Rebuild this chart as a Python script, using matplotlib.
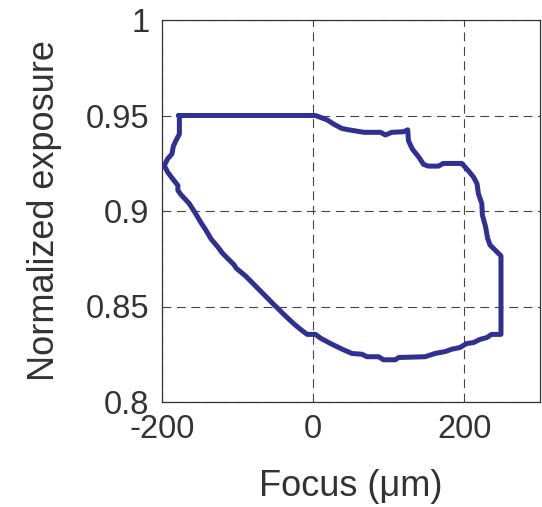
import matplotlib
matplotlib.use("Agg")
import matplotlib.pyplot as plt

plt.rcParams['font.family'] = ['Liberation Sans', 'DejaVu Sans']

# Process window boundary: focus (um) vs normalized exposure
focus = [-178, 3, 9.7, 18.5, 27, 38, 47, 67, 89, 95.6, 104, 119.6, 125, 126, 131,
         139.7, 146, 152.5, 165.7, 172, 196.5, 205, 212, 216.7, 218.5, 223, 223.8,
         228, 230.7, 233.9, 240.5, 248.4, 248.4, 236, 229.5, 220.7, 212, 203, 194,
         183, 174.5, 161, 148, 113, 108.6, 93, 86.6, 71, 64.6, 51.4, 38, 23, 9.7,
         3, -8, -16.7, -25.5, -38.7, -47.5, -52, -60.7, -76, -89, -102, -104.6,
         -120, -126.6, -135, -142, -148.6, -157, -164, -175, -179, -179, -186,
         -192.6, -197, -192.6, -186.8, -185, -181.6, -177, -177, -178]
exposure = [0.950, 0.950, 0.949, 0.9477, 0.9455, 0.9432, 0.9425, 0.9412, 0.9412,
            0.9398, 0.9412, 0.9415, 0.9425, 0.9368, 0.9325, 0.9282, 0.9244, 0.9235,
            0.9235, 0.9249, 0.9249, 0.9212, 0.9178, 0.9143, 0.9091, 0.9039, 0.8978,
            0.8918, 0.8857, 0.8822, 0.8796, 0.8765, 0.8354, 0.8354, 0.8337, 0.8328,
            0.8311, 0.8306, 0.8285, 0.8276, 0.8264, 0.8254, 0.8237, 0.8233, 0.8221,
            0.8221, 0.8237, 0.8237, 0.8250, 0.8254, 0.8277, 0.8306, 0.8334, 0.8354,
            0.8354, 0.8380, 0.8409, 0.8458, 0.8493, 0.8510, 0.8545, 0.8606, 0.8658,
            0.8701, 0.8718, 0.8779, 0.8814, 0.8853, 0.8900, 0.8940, 0.8996, 0.9039,
            0.9086, 0.9108, 0.9134, 0.9169, 0.9204, 0.9238, 0.9273, 0.9299, 0.9339,
            0.9368, 0.9403, 0.9490, 0.950]

x_ticks = [-200, 0, 200]
x_tick_labels = ['-200', '0', '200']
y_ticks = [0.8, 0.85, 0.9, 0.95, 1.0]
y_tick_labels = ['0.8', '0.85', '0.9', '0.95', '1']

fig = plt.figure(figsize=(5.42, 5.07), dpi=100)
ax = fig.add_axes([162 / 542, 1 - 402 / 507, (540 - 162) / 542, (402 - 20) / 507])

ax.plot(focus, exposure, color='#2E3192', lw=3.6, solid_joinstyle='round',
        solid_capstyle='round', zorder=3)

ax.set_xlim(-200, 300)
ax.set_ylim(0.8, 1.0)
ax.set_xticks(x_ticks)
ax.set_xticklabels(x_tick_labels)
ax.set_yticks(y_ticks)
ax.set_yticklabels(y_tick_labels)

ax.grid(True, color='#444444', lw=0.8, linestyle=(0, (8, 5)))
ax.tick_params(length=0, labelsize=23.5, labelcolor='#333333', pad=9)
for s in ax.spines.values():
    s.set_color('#333333')
    s.set_linewidth(0.9)

ax.set_xlabel('Focus (\u03bcm)', fontsize=26, color='#333333', labelpad=17)
ax.set_ylabel('Normalized exposure', fontsize=26, color='#333333', labelpad=17)

fig.savefig('out.png', dpi=100)
